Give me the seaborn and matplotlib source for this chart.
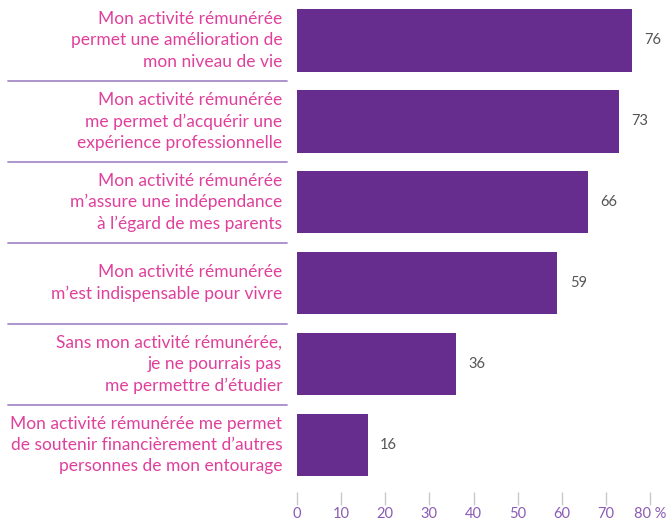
import matplotlib
matplotlib.use('Agg')
import pandas as pd
import seaborn as sns
import matplotlib.pyplot as plt

sns.set_theme(style='white')
plt.rcParams['font.family'] = ['Lato', 'DejaVu Sans']

# data
labels = [
    'Mon activité rémunérée\npermet une amélioration de\nmon niveau de vie',
    'Mon activité rémunérée\nme permet d\u2019acquérir une\nexpérience professionnelle',
    'Mon activité rémunérée\nm\u2019assure une indépendance\nà l\u2019égard de mes parents',
    'Mon activité rémunérée\nm\u2019est indispensable pour vivre',
    'Sans mon activité rémunérée,\nje ne pourrais pas\nme permettre d\u2019étudier',
    'Mon activité rémunérée me permet\nde soutenir financièrement d\u2019autres\npersonnes de mon entourage',
]
values = [76, 73, 66, 59, 36, 16]
xticks = [0, 10, 20, 30, 40, 50, 60, 70, 80]
xticklabels = ['0', '10', '20', '30', '40', '50', '60', '70', '80 %']

bar_col = '#662d8f'
pink = '#e0409b'
tick_col = '#8a5bb5'
sep_col = '#a78cc9'

df = pd.DataFrame({'label': labels, 'value': values})

fig = plt.figure(figsize=(6.67, 5.2), dpi=100)
ax = fig.add_axes([297 / 667, 1 - 492 / 520, 353 / 667, 492 / 520])

sns.barplot(data=df, x='value', y='label', color=bar_col, width=0.77,
            saturation=1, linewidth=0, ax=ax)

ax.set_xlim(0, 80)
ax.set_ylim(5.58, -0.5)
for s in ax.spines.values():
    s.set_visible(False)

ax.set_xlabel('')
ax.set_ylabel('')
ax.set_yticks([])
ax.set_xticks(xticks)
ax.set_xticklabels(xticklabels, color=tick_col, fontsize=10.5)
ax.tick_params(axis='x', bottom=True, direction='out', length=9, width=1,
               color='#c8c8c8', pad=1.5)
ax.get_xticklines()[0].set_color('black')

# category labels on the left, right aligned
for i, lab in enumerate(labels):
    ax.text(-0.042, i, lab, transform=ax.get_yaxis_transform(), ha='right',
            va='center', color=pink, fontsize=12.5, linespacing=1.4)

# value labels
for i, v in enumerate(values):
    ax.text(v + 2.8, i, str(v), ha='left', va='center', color='#555555',
            fontsize=10.5, clip_on=False)

# separator lines between the labels
for i in range(len(labels) - 1):
    ax.plot([-0.819, -0.028], [i + 0.5, i + 0.5], transform=ax.get_yaxis_transform(),
            color=sep_col, lw=1.3, clip_on=False)

fig.savefig('out.png', dpi=100)
